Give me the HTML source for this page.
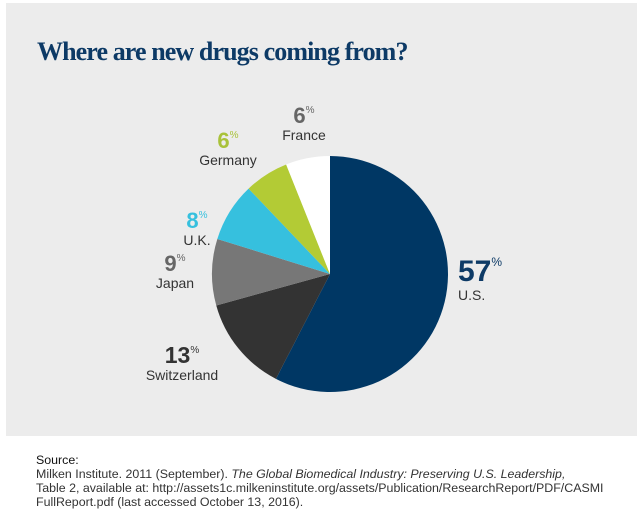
<!DOCTYPE html>
<html><head><meta charset="utf-8"><style>
body{margin:0;width:637px;height:520px;background:#fff;overflow:hidden;font-family:"Liberation Sans",sans-serif}
#panel{position:absolute;left:6px;top:3px;width:631px;height:433px;background:#ececec}
#title{position:absolute;left:37px;top:37px;font-family:"Liberation Serif",serif;font-weight:bold;font-size:26px;color:#0d3a66;letter-spacing:-0.9px;margin:0}
.lbl{position:absolute;text-align:center;line-height:1}
.pct{font-weight:bold;font-size:22px}
.pct sup{font-size:10px;font-weight:normal;vertical-align:10px}
.nm{font-size:14px;color:#333;margin-top:1px}
#src{position:absolute;left:36px;top:453px;font-size:12.4px;line-height:14px;color:#333}
</style></head><body>
<div id="panel"></div>
<h1 id="title">Where are new drugs coming from?</h1>
<svg id="pie" width="637" height="520" style="position:absolute;left:0;top:0"></svg>
<div class="lbl" style="left:458px;top:256px;text-align:left"><div class="pct" style="font-size:30px;color:#0d3a66">57<sup style="font-size:12px;vertical-align:15px">%</sup></div><div class="nm">U.S.</div></div>
<div class="lbl" style="left:138px;top:344px;width:88px"><div class="pct" style="color:#333;font-size:23px">13<sup>%</sup></div><div class="nm">Switzerland</div></div>
<div class="lbl" style="left:148px;top:253px;width:54px"><div class="pct" style="color:#666">9<sup>%</sup></div><div class="nm">Japan</div></div>
<div class="lbl" style="left:175px;top:210px;width:44px"><div class="pct" style="color:#36c0de">8<sup>%</sup></div><div class="nm">U.K.</div></div>
<div class="lbl" style="left:190px;top:130px;width:76px"><div class="pct" style="color:#a9c23a">6<sup>%</sup></div><div class="nm">Germany</div></div>
<div class="lbl" style="left:274px;top:105px;width:60px"><div class="pct" style="color:#666">6<sup>%</sup></div><div class="nm">France</div></div>
<div id="src"><b style="font-weight:normal;color:#111">Source:</b><br>Milken Institute. 2011 (September). <i>The Global Biomedical Industry: Preserving U.S. Leadership,</i><br>Table 2, available at: http://assets1c.milkeninstitute.org/assets/Publication/ResearchReport/PDF/CASMI<br>FullReport.pdf (last accessed October 13, 2016).</div>
<script>
const categories=["U.S.","Switzerland","Japan","U.K.","Germany","France"];
const values=[57,13,9,8,6,6];
const colors=["#003764","#333333","#777777","#36c0de","#b3cb35","#ffffff"];
const cx=330,cy=274,r=118;
const svg=document.getElementById('pie');
const total=values.reduce((a,b)=>a+b,0);
let a0=0;
function pt(a){return [cx+r*Math.sin(a),cy-r*Math.cos(a)];}
values.forEach((v,i)=>{
  const a1=a0+v/total*2*Math.PI;
  const p0=pt(a0),p1=pt(a1);
  const large=(a1-a0)>Math.PI?1:0;
  const path=document.createElementNS('http://www.w3.org/2000/svg','path');
  path.setAttribute('d',`M${cx},${cy}L${p0[0]},${p0[1]}A${r},${r} 0 ${large} 1 ${p1[0]},${p1[1]}Z`);
  path.setAttribute('fill',colors[i]);
  
  
  svg.appendChild(path);
  a0=a1;
});
</script>
</body></html>
